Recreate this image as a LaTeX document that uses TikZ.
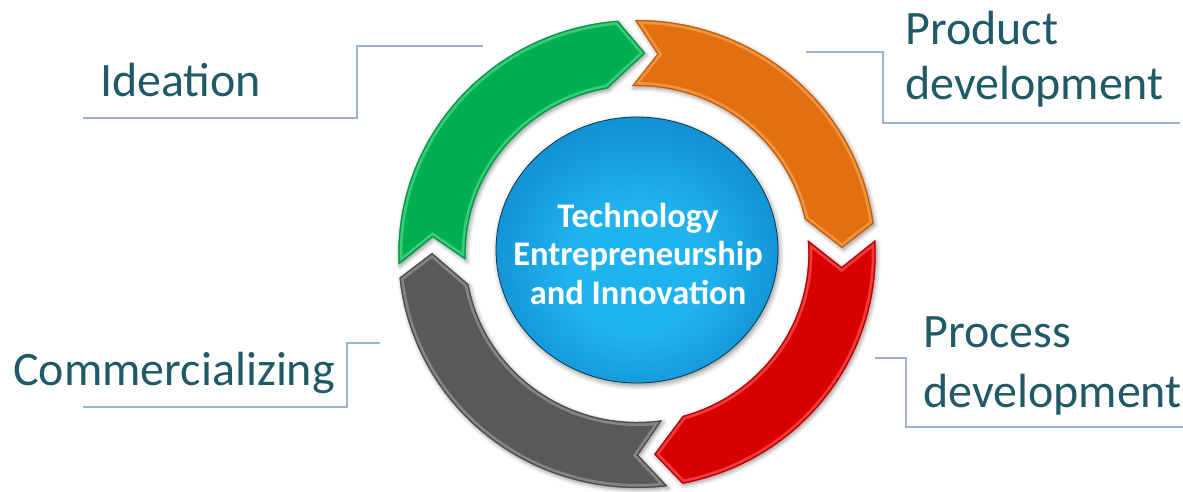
\documentclass[tikz,border=0pt]{standalone}
\usepackage{fontspec}
\setmainfont{Carlito}
\usetikzlibrary{shadows.blur}

% palette
\definecolor{labelteal}{HTML}{1F5A66}
\definecolor{bracketblue}{HTML}{9DB3D1}
\definecolor{greenbase}{HTML}{00B050}
\definecolor{greenlight}{HTML}{5ADB8E}
\definecolor{orangebase}{HTML}{E3700E}
\definecolor{orangelight}{HTML}{F8A65C}
\definecolor{redbase}{HTML}{D90000}
\definecolor{redlight}{HTML}{FF5C5C}
\definecolor{graybase}{HTML}{595959}
\definecolor{graylight}{HTML}{9C9C9C}
\definecolor{spherecore}{HTML}{20B4EE}
\definecolor{spheremid}{HTML}{118FD1}
\definecolor{sphereouter}{HTML}{0B6CAA}
\definecolor{spheredeep}{HTML}{084F80}
\definecolor{sphererim}{HTML}{06385A}

\pgfdeclareradialshading{spherefill}{\pgfpoint{0bp}{-5bp}}{%
  color(0bp)=(spherecore); color(12bp)=(spherecore); color(28bp)=(spheremid);
  color(40bp)=(sphereouter); color(47bp)=(spheredeep); color(50bp)=(sphererim)}

% outline of one curved block arrow running clockwise:
% #1 outer tail corner, #2 notch, #3 inner tail corner,
% #4 outer head corner, #5 tip, #6 inner head corner (angles)
\newcommand{\arrowoutline}[6]{(#1:\Ro) arc[start angle=#1, end angle=#4, radius=\Ro]
  -- (#5:\Rm) -- (#6:\Ri) arc[start angle=#6, end angle=#3, radius=\Ri] -- (#2:\Rm) -- cycle}

% filled arrow with a soft shadow and a bevel highlight along its rim
\newcommand{\ringarrow}[8]{%
  \path[ringshadow, fill=#1] \arrowoutline{#3}{#4}{#5}{#6}{#7}{#8};
  \begin{scope}
    \clip \arrowoutline{#3}{#4}{#5}{#6}{#7}{#8};
    \draw[#2, line width=8pt, opacity=0.65] \arrowoutline{#3}{#4}{#5}{#6}{#7}{#8};
    \draw[#1!85!black, line width=2.5pt] \arrowoutline{#3}{#4}{#5}{#6}{#7}{#8};
  \end{scope}}

\begin{document}
\begin{tikzpicture}[x=1pt,y=1pt,
  cyclelabel/.style={font=\fontsize{48}{57}\selectfont, text=labelteal,
    inner sep=0pt, anchor=base west},
  bracket/.style={draw=bracketblue, line width=1.2pt},
  ringshadow/.style={blur shadow={shadow xshift=1.5pt, shadow yshift=-2pt,
    shadow blur radius=4pt, shadow opacity=40}},
]
\useasboundingbox (0,0) rectangle (1183,491);

% four block arrows forming the cycle
\begin{scope}[shift={(637,237)}, xscale=1.02]
  \def\Ro{234}\def\Ri{168}\def\Rm{201}
  \ringarrow{greenbase}{greenlight}{182.6}{175.2}{182}{94.6}{87.7}{100}
  \ringarrow{orangebase}{orangelight}{90.5}{84.3}{91.7}{7.5}{1.7}{12}
  \ringarrow{redbase}{redlight}{3.4}{-3.7}{4.7}{-79}{-85.2}{-74.5}
  \ringarrow{graybase}{graylight}{-82.7}{-89.7}{-81.6}{-174.2}{-180.3}{-169.6}
\end{scope}

% central sphere
\path[blur shadow={shadow xshift=1.5pt, shadow yshift=-2.5pt,
    shadow blur radius=5pt, shadow opacity=45}, shading=spherefill]
  (637,241) ellipse [x radius=141, y radius=133];
\draw[sphererim, line width=0.8pt] (637,241) ellipse [x radius=141, y radius=133];
\node[font=\bfseries\fontsize{34.5}{38.5}\selectfont, text=white, align=center,
  inner sep=0pt] (core) at (638,237) {Technology\\Entrepreneurship\\and Innovation};

% stage labels
\node[cyclelabel] (ideation) at (100,394) {Ideation};
\node[cyclelabel] (product) at (905,446) {Product};
\node[cyclelabel] (productdev) at (905,391) {development};
\node[cyclelabel] (commerce) at (13,106) {Commercializing};
\node[cyclelabel] (process) at (923,144) {Process};
\node[cyclelabel] (processdev) at (923,84) {development};

% bracket lines beside the labels
\coordinate (ideaA) at (83,373);  \coordinate (ideaB) at (357,373);
\coordinate (ideaC) at (357,445); \coordinate (ideaD) at (483,445);
\draw[bracket] (ideaA) -- (ideaB) -- (ideaC) -- (ideaD);

\coordinate (prodA) at (806,439);  \coordinate (prodB) at (883,439);
\coordinate (prodC) at (883,368);  \coordinate (prodD) at (1180,368);
\draw[bracket] (prodA) -- (prodB) -- (prodC) -- (prodD);

\coordinate (commA) at (380,148);  \coordinate (commB) at (347,148);
\coordinate (commC) at (347,84);   \coordinate (commD) at (83,84);
\draw[bracket] (commA) -- (commB) -- (commC) -- (commD);

\coordinate (procA) at (875,133);  \coordinate (procB) at (906,133);
\coordinate (procC) at (906,64);   \coordinate (procD) at (1183,64);
\draw[bracket] (procA) -- (procB) -- (procC) -- (procD);
\end{tikzpicture}
\end{document}
